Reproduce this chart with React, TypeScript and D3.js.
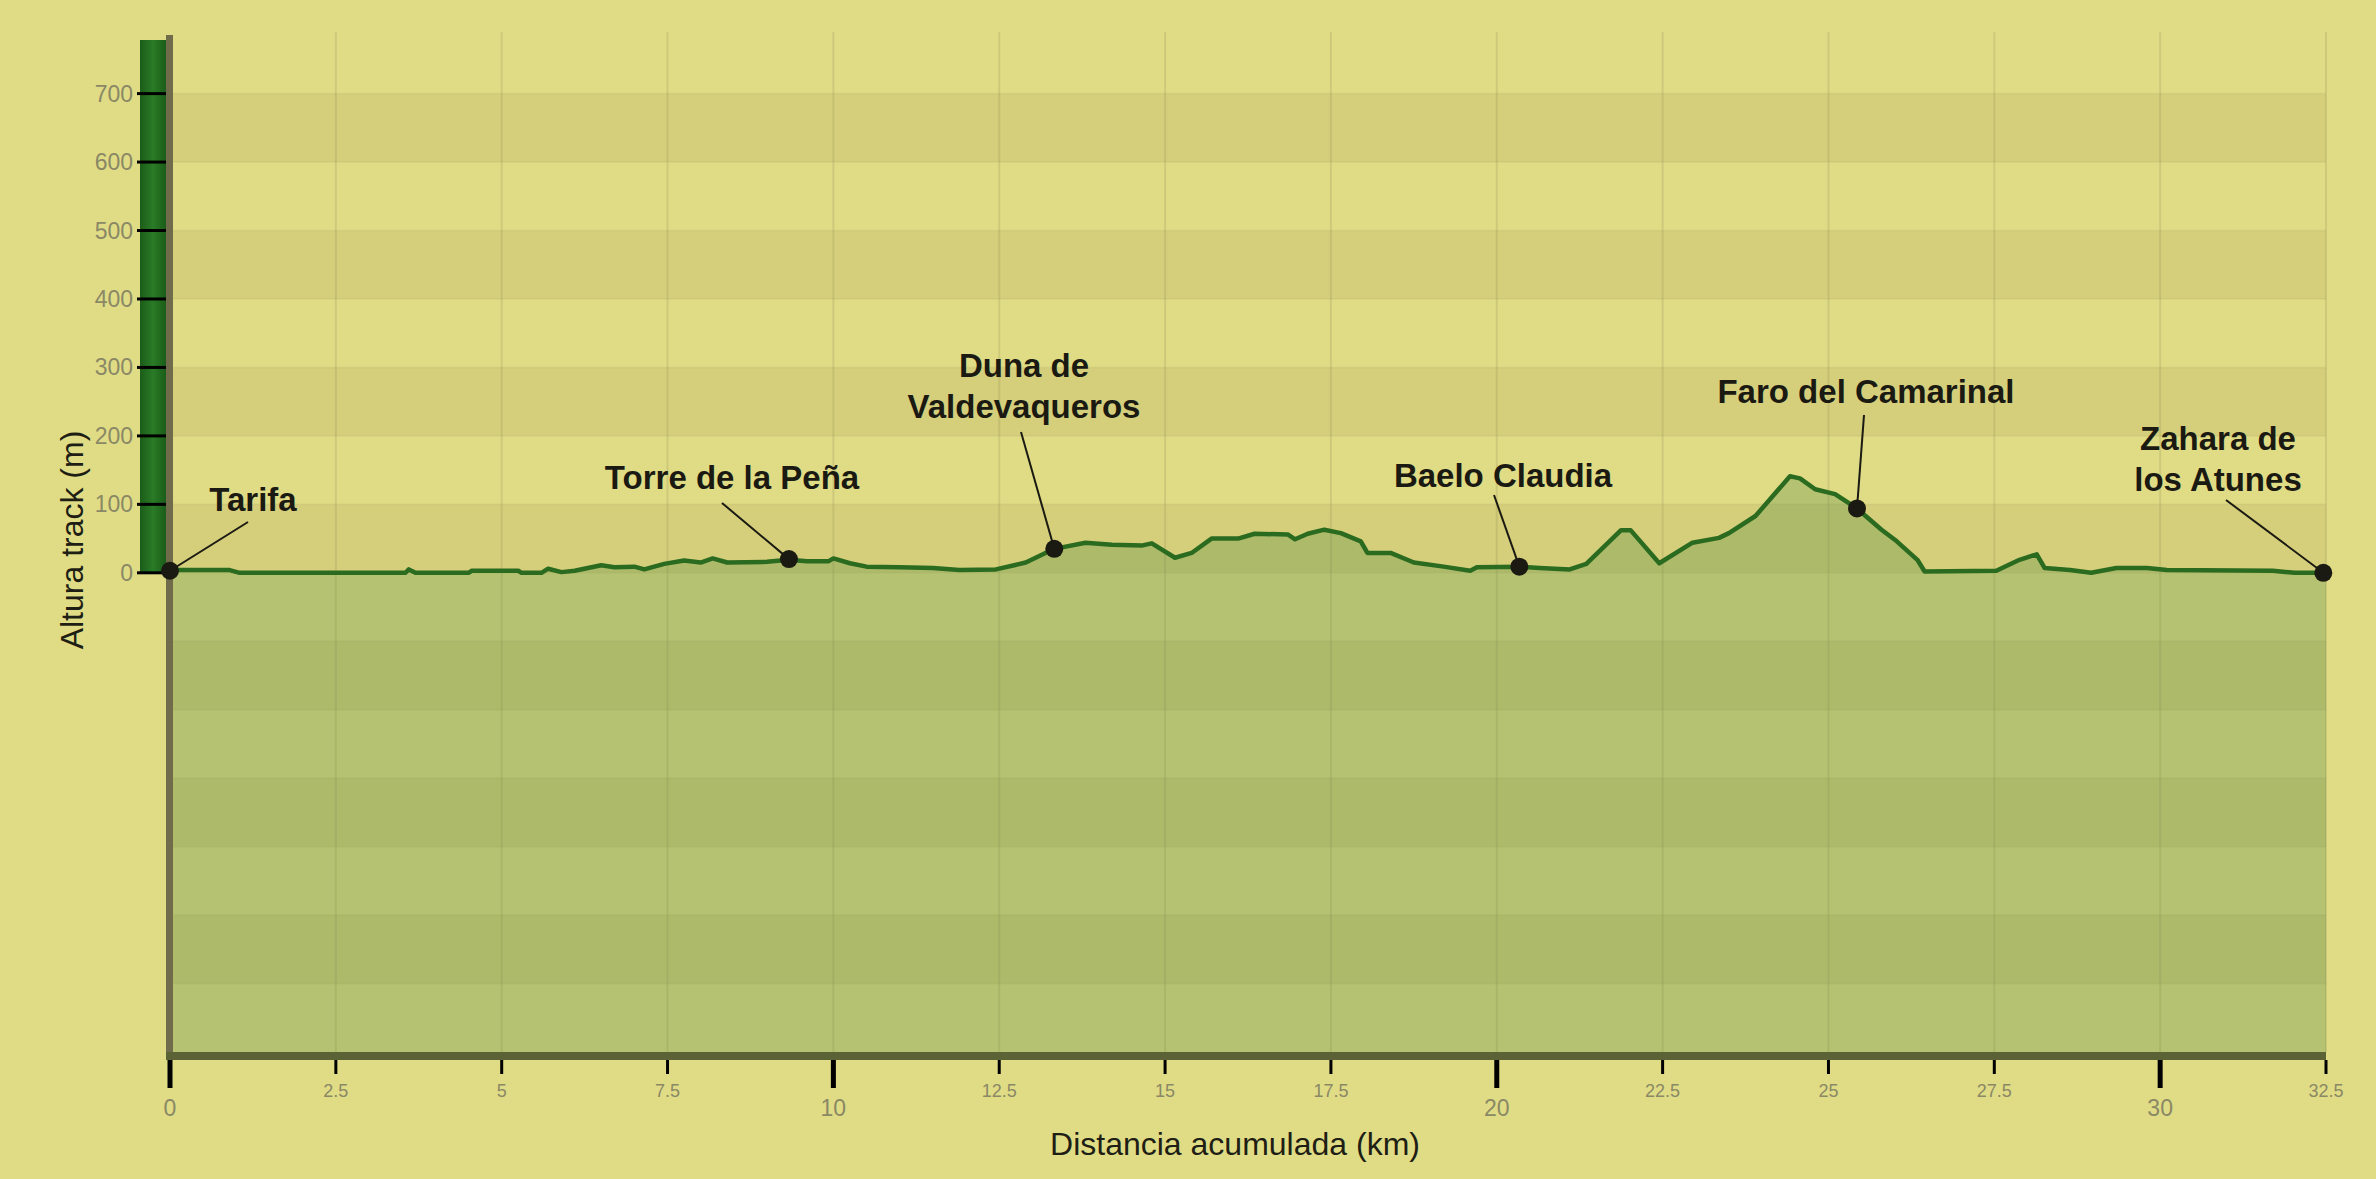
import React from "react";
import * as d3 from "d3";

// elevation profile (km, m)
const profileKm = [0, 0.3, 0.9, 1.05, 3.55, 3.6, 3.7, 4.5, 4.55, 5.25, 5.3, 5.6, 5.7, 5.9, 6.1, 6.3, 6.5, 6.7, 7.0, 7.15,
  7.45, 7.75, 8.0, 8.18, 8.4, 9.0, 9.33, 9.6, 9.93, 10.0, 10.25, 10.5, 11.0, 11.5, 11.9, 12.45, 12.9, 13.33, 13.8, 14.2,
  14.66, 14.8, 15.15, 15.4, 15.7, 16.1, 16.35, 16.85, 16.96, 17.15, 17.4, 17.65, 17.95, 18.05, 18.4, 18.75, 19.2, 19.6, 19.7, 20.34,
  20.65, 21.1, 21.35, 21.87, 22.02, 22.45, 22.95, 23.35, 23.5, 23.9, 24.42, 24.57, 24.8, 25.1, 25.43, 25.8, 26.03, 26.34, 26.45, 27.53,
  27.88, 28.14, 28.26, 28.64, 28.96, 29.34, 29.8, 30.1, 31.7, 32.03, 32.46];
const profileElev = [4, 4, 4, 0, 0, 5, 0, 0, 3, 3, 0, 0, 6, 1, 3, 7, 11, 8, 9, 5,
  13, 18, 15, 21, 15, 16, 19, 17, 17, 21, 14, 9, 8, 7, 4, 5, 15, 35, 44, 41,
  40, 43, 22, 29, 50, 50, 57, 56, 49, 57, 63, 58, 46, 29, 29, 15, 9, 3, 8, 9,
  7, 5, 13, 62, 62, 14, 44, 51, 58, 83, 141, 138, 122, 115, 94, 63, 46, 19, 2, 3,
  19, 27, 7, 4, 0, 7, 7, 4, 3, 0, 0];

// waypoints
const wpNames = ["Tarifa", "Torre de la Peña", "Duna de\nValdevaqueros", "Baelo Claudia", "Faro del Camarinal", "Zahara de\nlos Atunes"];
const wpKm = [0, 9.33, 13.33, 20.34, 25.43, 32.46];
const wpElev = [3, 20, 35, 9, 94, 0];

const yTicks = [0, 100, 200, 300, 400, 500, 600, 700];
const xTicks = d3.range(0, 32.51, 2.5);

// label placement (px): label centre x, first baseline y, leader start
const labelLayout = [
  { lx: 253, ly: 511, sx: 248, sy: 522 },
  { lx: 732, ly: 489, sx: 722, sy: 503 },
  { lx: 1024, ly: 377, sx: 1021, sy: 432 },
  { lx: 1503, ly: 487, sx: 1494, sy: 495 },
  { lx: 1866, ly: 403, sx: 1864, sy: 415 },
  { lx: 2218, ly: 450, sx: 2226, sy: 500 },
];

const W = 2376, H = 1179;
const left = 170, right = 2326, top = 32, bottom = 1052;
const font = "'Liberation Sans', Arial, sans-serif";

export default function App() {
  const x = d3.scaleLinear().domain([0, 32.5]).range([left, right]);
  const y = d3.scaleLinear().domain([-700, 790]).range([bottom, top]);

  const pts: [number, number][] = profileKm.map((k, i) => [k, profileElev[i]]);
  const line = d3.line<[number, number]>().x(d => x(d[0])).y(d => y(d[1]));
  const area = d3.area<[number, number]>().x(d => x(d[0])).y0(y(0)).y1(d => y(d[1]));

  const bands = d3.range(-7, 8).filter(k => k % 2 === 0);

  return (
    <svg width={W} height={H} style={{ position: "absolute", left: 0, top: 0 }} fontFamily={font}>
      <defs>
        <linearGradient id="bar" x1="0" x2="1" y1="0" y2="0">
          <stop offset="0" stopColor="#1b5c19" />
          <stop offset="0.5" stopColor="#2a7b26" />
          <stop offset="1" stopColor="#1b5c19" />
        </linearGradient>
      </defs>
      <rect width={W} height={H} fill="#e0dc86" />

      {/* alternating bands */}
      {bands.map(k => {
        const y0 = Math.max(k * 100, -700), y1 = Math.min((k + 1) * 100, 790);
        return <rect key={k} x={left} width={right - left} y={y(y1)} height={y(y0) - y(y1)} fill="#d5cf7c" />;
      })}
      {d3.range(-600, 800, 100).map(v => (
        <line key={v} x1={left} x2={right} y1={y(v)} y2={y(v)} stroke="#000" strokeOpacity={0.035} strokeWidth={2} />
      ))}

      {/* vertical grid */}
      {xTicks.filter(v => v > 0).map(v => (
        <line key={v} x1={x(v)} x2={x(v)} y1={top} y2={bottom} stroke="#8c8850" strokeOpacity={0.22} strokeWidth={2} />
      ))}

      {/* fill below sea level and under the profile */}
      <rect x={left} width={right - left} y={y(0)} height={bottom - y(0)} fill="#65924a" fillOpacity={0.35} />
      <path d={area(pts) || ""} fill="#65924a" fillOpacity={0.35} />
      <path d={line(pts) || ""} fill="none" stroke="#2b6b20" strokeWidth={4.5} strokeLinejoin="round" />

      {/* left green bar and axis lines */}
      <rect x={140} y={40} width={26} height={y(0) - 40} fill="url(#bar)" />
      <rect x={166} y={35} width={7} height={bottom + 8 - 35} fill="#6f6b4b" />
      <rect x={166} y={bottom} width={right - 166} height={8} fill="#5b6236" />

      {/* y axis */}
      {yTicks.map(v => (
        <g key={v}>
          <line x1={137} x2={166} y1={y(v)} y2={y(v)} stroke="#000" strokeWidth={3} />
          <text x={133} y={y(v)} dy="0.35em" textAnchor="end" fontSize={23} fill="#8a8865">{v}</text>
        </g>
      ))}
      <text transform={`translate(83,540) rotate(-90)`} textAnchor="middle" fontSize={32} fill="#1e1e14">Altura track (m)</text>

      {/* x axis */}
      {xTicks.map(v => {
        const major = v % 10 === 0;
        return (
          <g key={v}>
            <line x1={x(v)} x2={x(v)} y1={bottom + 8} y2={major ? 1088 : 1074} stroke="#000" strokeWidth={major ? 5 : 3} />
            <text x={x(v)} y={major ? 1116 : 1097} textAnchor="middle" fontSize={major ? 23 : 18} fill="#8a8865">{String(v)}</text>
          </g>
        );
      })}
      <text x={1235} y={1155} textAnchor="middle" fontSize={32} fill="#1e1e14">Distancia acumulada (km)</text>

      {/* waypoints */}
      {wpNames.map((name, i) => {
        const L = labelLayout[i];
        const mx = x(wpKm[i]), my = y(wpElev[i]);
        return (
          <g key={name}>
            <line x1={L.sx} y1={L.sy} x2={mx} y2={my} stroke="#1a1a12" strokeWidth={2} />
            <circle cx={mx} cy={my} r={9} fill="#1a1a12" />
            <text x={L.lx} y={L.ly} textAnchor="middle" fontSize={33} fontWeight="bold" fill="#1a1a12">
              {name.split("\n").map((t, j) => (
                <tspan key={j} x={L.lx} dy={j === 0 ? 0 : 41}>{t}</tspan>
              ))}
            </text>
          </g>
        );
      })}
    </svg>
  );
}
